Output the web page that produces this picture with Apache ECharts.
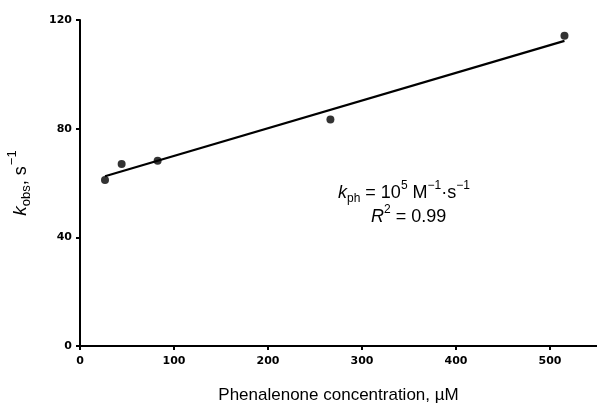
<!DOCTYPE html>
<html><head><meta charset="utf-8">
<script src="https://cdn.jsdelivr.net/npm/echarts@6/dist/echarts.min.js"></script>
<style>html,body{margin:0;padding:0;background:#fff}#c{width:597px;height:403px}</style>
</head><body><div id="c"></div>
<script>
const concentration = [26.6, 44.3, 82.6, 266.4, 515.4];
const kobs = [61.1, 67.0, 68.2, 83.4, 114.2];
const fitX = [26.6, 515.4];
const fitY = [62.5, 112.3];
const xTicks = [0, 100, 200, 300, 400, 500];
const yTicks = [0, 40, 80, 120];

const chart = echarts.init(document.getElementById('c'), null, {renderer: 'canvas'});
const labelFont = {fontFamily: 'DejaVu Sans', fontWeight: 'bold', fontSize: 11, color: '#000'};
const ff = 'Liberation Sans';
const option = {
  animation: false,
  backgroundColor: '#fff',
  grid: {left: 80, top: 20, right: 0, bottom: 57, containLabel: false, outerBoundsMode: 'none'},
  xAxis: {
    type: 'value', min: 0, max: 550, interval: 100,
    name: 'Phenalenone concentration, µM',
    nameLocation: 'middle', nameGap: 41,
    nameTextStyle: {fontFamily: ff, fontSize: 17, color: '#000'},
    axisLine: {show: true, lineStyle: {color: '#000', width: 2}},
    axisTick: {show: true, length: 4, lineStyle: {color: '#000', width: 2}},
    axisLabel: Object.assign({margin: 10, showMaxLabel: false,
      formatter: v => xTicks.includes(v) ? String(v) : ''}, labelFont),
    splitLine: {show: false}
  },
  yAxis: {
    type: 'value', min: 0, max: 120, interval: 40,
    name: '{k|k}{sub|obs}{n|, s}{sup|−1}',
    nameLocation: 'middle', nameGap: 50, nameRotate: 90,
    nameTextStyle: {
      rich: {
        k: {fontFamily: ff, fontStyle: 'italic', fontSize: 19, color: '#000', verticalAlign: 'bottom', lineHeight: 24},
        sub: {fontFamily: ff, fontSize: 13, color: '#000', verticalAlign: 'bottom', lineHeight: 24, padding: [0, 0, -3, 0]},
        n: {fontFamily: ff, fontSize: 18, color: '#000', verticalAlign: 'bottom', lineHeight: 24},
        sup: {fontFamily: ff, fontSize: 13, color: '#000', verticalAlign: 'top', lineHeight: 24, padding: [0, 0, 0, 1]}
      }
    },
    axisLine: {show: true, lineStyle: {color: '#000', width: 2}},
    axisTick: {show: true, length: 4, lineStyle: {color: '#000', width: 2}},
    axisLabel: Object.assign({margin: 8, formatter: v => yTicks.includes(v) ? String(v) : ''}, labelFont),
    splitLine: {show: false}
  },
  series: [
    {
      type: 'line', data: fitX.map((x, i) => [x, fitY[i]]),
      symbol: 'none', lineStyle: {color: '#000', width: 2.2}, z: 2
    },
    {
      type: 'scatter', data: concentration.map((x, i) => [x, kobs[i]]),
      symbol: 'circle', symbolSize: 8, itemStyle: {color: '#000'}, z: 3
    }
  ],
  graphic: [
    {
      type: 'text', left: 338, top: 180,
      style: {
        text: '{k|k}{sub|ph}{n| = 10}{sup|5}{n| M}{sup|−1}{n|·s}{sup|−1}',
        rich: {
          k: {fontFamily: ff, fontStyle: 'italic', fontSize: 18, fill: '#000', verticalAlign: 'bottom', lineHeight: 22},
          sub: {fontFamily: ff, fontSize: 12, fill: '#000', verticalAlign: 'bottom', lineHeight: 22, padding: [0, 0, -3, 0]},
          n: {fontFamily: ff, fontSize: 18, fill: '#000', verticalAlign: 'bottom', lineHeight: 22},
          sup: {fontFamily: ff, fontSize: 12, fill: '#000', verticalAlign: 'top', lineHeight: 22, padding: [0, 0, 3, 0]}
        }
      }
    },
    {
      type: 'text', left: 371, top: 204,
      style: {
        text: '{k|R}{sup|2}{n| = 0.99}',
        rich: {
          k: {fontFamily: ff, fontStyle: 'italic', fontSize: 18, fill: '#000', verticalAlign: 'bottom', lineHeight: 22},
          n: {fontFamily: ff, fontSize: 18, fill: '#000', verticalAlign: 'bottom', lineHeight: 22},
          sup: {fontFamily: ff, fontSize: 12, fill: '#000', verticalAlign: 'top', lineHeight: 22, padding: [0, 0, 3, 0]}
        }
      }
    }
  ]
};
chart.setOption(option);
</script></body></html>
